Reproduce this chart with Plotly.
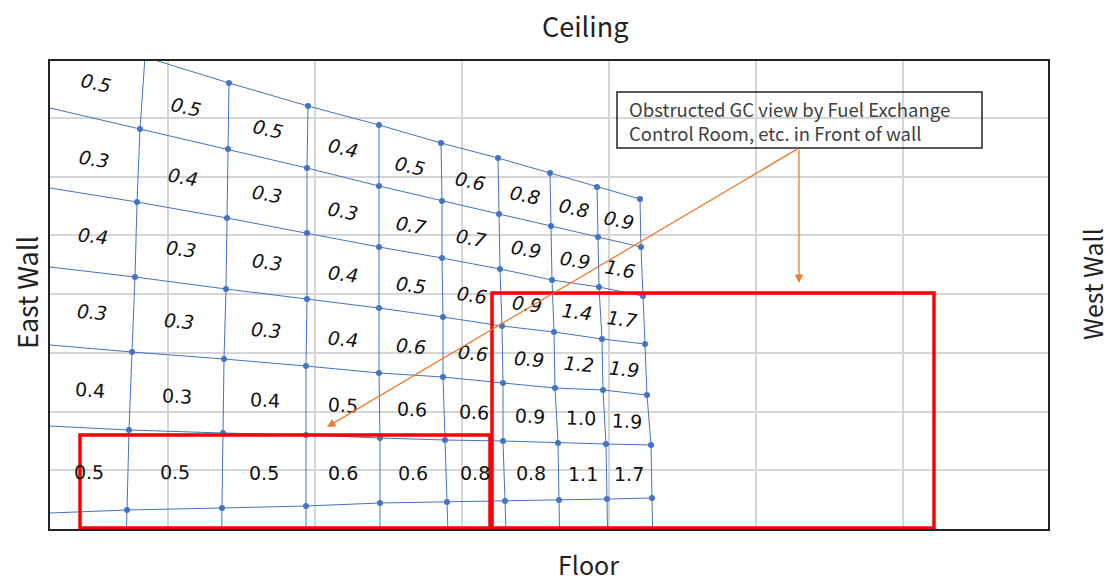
import math
import plotly.graph_objects as go

# ---------------- data ----------------
# Plot frame (picture pixel units, y grows downward)
frame_x = [50, 1048]
frame_y = [529, 61]

# Mesh nodes: rows R0..R6 (top to bottom), columns C0..C8 (east to west)
node_x = [
    [145, 229, 308, 379, 441, 498, 550, 597, 640],
    [140, 228, 307, 379, 442, 499, 551, 598, 641],
    [137, 227, 307, 379, 442, 500, 552, 599, 643],
    [135, 226, 307, 379, 443, 502, 554, 602, 645],
    [132, 224, 306, 379, 443, 503, 555, 603, 647],
    [129, 223, 306, 380, 445, 503, 558, 606, 651],
    [127, 222, 306, 380, 447, 505, 559, 607, 652],
]
node_y = [
    [57, 83, 106, 125, 143, 158, 173, 187, 199],
    [129, 149, 168, 186, 201, 214, 226, 237, 247],
    [202, 218, 233, 247, 258, 269, 280, 287, 296],
    [277, 289, 299, 308, 317, 326, 332, 339, 344],
    [352, 359, 366, 373, 377, 383, 388, 390, 395],
    [430, 433, 435, 438, 440, 441, 443, 444, 445],
    [510, 508, 506, 503, 502, 501, 500, 499, 498],
]
# Height where each mesh row line meets the east wall (left frame)
row_left_y = [30, 108, 188, 267, 345, 426, 513]

# GC values per cell (rows top->bottom, columns east->west)
gc_values = [
    [0.5, 0.5, 0.5, 0.4, 0.5, 0.6, 0.8, 0.8, 0.9],
    [0.3, 0.4, 0.3, 0.3, 0.7, 0.7, 0.9, 0.9, 1.6],
    [0.4, 0.3, 0.3, 0.4, 0.5, 0.6, 0.9, 1.4, 1.7],
    [0.3, 0.3, 0.3, 0.4, 0.6, 0.6, 0.9, 1.2, 1.9],
    [0.4, 0.3, 0.4, 0.5, 0.6, 0.6, 0.9, 1.0, 1.9],
    [0.5, 0.5, 0.5, 0.6, 0.6, 0.8, 0.8, 1.1, 1.7],
]

# Obstructed regions (x0, y0, x1, y1)
obstructed_regions = [
    (80, 435, 490, 528),
    (492, 293, 934, 528),
]

note_text = "Obstructed GC view by Fuel Exchange<br>Control Room, etc. in Front of wall"
note_box = (617, 92, 982, 148)
arrow_tail = (799, 148)
arrow_heads = [(799, 283), (327, 427)]

# ---------------- styles ----------------
MESH_COLOR = "#4472C4"
GRID_COLOR = "#d6d6d6"
ORANGE = "#ED7D31"
LABEL_FONT = "DejaVu Sans, Verdana, sans-serif"
TITLE_FONT = "Noto Sans CJK JP"

n_rows = len(node_x)
n_cols = len(node_x[0])

fig = go.Figure()

# mesh row lines (from east wall to last column)
lx, ly = [], []
for r in range(n_rows):
    lx += [frame_x[0]] + node_x[r] + [None]
    ly += [row_left_y[r]] + node_y[r] + [None]
# mesh column lines (extend past the floor)
for c in range(n_cols):
    xs = [node_x[r][c] for r in range(n_rows)]
    ys = [node_y[r][c] for r in range(n_rows)]
    dx = xs[-1] - xs[-2]
    dy = ys[-1] - ys[-2]
    t = (560 - ys[-1]) / dy
    xs.append(xs[-1] + dx * t)
    ys.append(560)
    lx += xs + [None]
    ly += ys + [None]

fig.add_trace(go.Scatter(x=lx, y=ly, mode="lines",
                         line=dict(color=MESH_COLOR, width=1),
                         hoverinfo="skip", showlegend=False))

px = [v for row in node_x for v in row]
py = [v for row in node_y for v in row]
fig.add_trace(go.Scatter(x=px, y=py, mode="markers",
                         marker=dict(color=MESH_COLOR, size=6),
                         hoverinfo="skip", showlegend=False))

annotations = []

# cell value labels
for r in range(len(gc_values)):
    for c in range(n_cols):
        if c == 0:
            tl = (frame_x[0], row_left_y[r])
            bl = (frame_x[0], row_left_y[r + 1])
        else:
            tl = (node_x[r][c - 1], node_y[r][c - 1])
            bl = (node_x[r + 1][c - 1], node_y[r + 1][c - 1])
        tr = (node_x[r][c], node_y[r][c])
        br = (node_x[r + 1][c], node_y[r + 1][c])
        cx = (tl[0] + tr[0] + bl[0] + br[0]) / 4
        cy = (tl[1] + tr[1] + bl[1] + br[1]) / 4
        a_top = math.degrees(math.atan2(tr[1] - tl[1], tr[0] - tl[0]))
        a_bot = math.degrees(math.atan2(br[1] - bl[1], br[0] - bl[0]))
        ang = 0.85 * (a_top + a_bot) / 2
        italic = r < 4
        txt = f"{gc_values[r][c]:.1f}"
        annotations.append(dict(
            x=cx, y=cy + 2, xref="x", yref="y", text=f"<i>{txt}</i>" if italic else txt,
            showarrow=False, textangle=ang,
            font=dict(family=LABEL_FONT, size=19, color="#111111"),
            xanchor="center", yanchor="middle"))

# note text
annotations.append(dict(
    x=note_box[0] + 10, y=(note_box[1] + note_box[3]) / 2 + 1, xref="x", yref="y",
    text=note_text, showarrow=False, align="left", xanchor="left", yanchor="middle",
    font=dict(family=TITLE_FONT, size=18.5, color="#404040")))

# arrows
for hx, hy in arrow_heads:
    annotations.append(dict(
        x=hx, y=hy, xref="x", yref="y", ax=arrow_tail[0], ay=arrow_tail[1],
        axref="x", ayref="y", text="", showarrow=True,
        arrowhead=2, arrowsize=1.3, arrowwidth=1.3, arrowcolor=ORANGE, standoff=0))

# wall titles (paper coords)
def to_paper(xp, yp):
    return ((xp - frame_x[0]) / (frame_x[1] - frame_x[0]),
            (frame_y[0] - yp) / (frame_y[0] - frame_y[1]))

for text, (xp, yp), ang, size in [("Ceiling", (585, 25), 0, 27),
                                  ("Floor", (588, 564), 0, 25),
                                  ("East Wall", (26, 293), -90, 27),
                                  ("West Wall", (1092, 284), -90, 25)]:
    xx, yy = to_paper(xp, yp)
    annotations.append(dict(
        x=xx, y=yy, xref="paper", yref="paper", text=text, showarrow=False,
        textangle=ang, xanchor="center", yanchor="middle",
        font=dict(family=TITLE_FONT, size=size, color="#222222")))

shapes = []
for (x0, y0, x1, y1) in obstructed_regions:
    shapes.append(dict(type="rect", xref="x", yref="y", x0=x0, y0=y0, x1=x1, y1=y1,
                       line=dict(color="#FF0000", width=3.5), layer="above"))
shapes.append(dict(type="rect", xref="x", yref="y", x0=note_box[0], y0=note_box[1],
                   x1=note_box[2], y1=note_box[3],
                   line=dict(color="#222222", width=1.5), layer="above"))

W, H = 1111, 582
fig.update_layout(
    width=W, height=H,
    margin=dict(l=frame_x[0], r=W - frame_x[1], t=frame_y[1], b=H - frame_y[0], pad=0),
    paper_bgcolor="white", plot_bgcolor="white",
    annotations=annotations, shapes=shapes,
    xaxis=dict(range=frame_x, tickmode="linear", tick0=168, dtick=147,
               showticklabels=False, ticks="", showgrid=True, gridcolor=GRID_COLOR,
               gridwidth=2, zeroline=False, showline=True, mirror=True,
               linecolor="#222222", linewidth=1.5, fixedrange=True),
    yaxis=dict(range=frame_y, tickmode="linear", tick0=118, dtick=58.7,
               showticklabels=False, ticks="", showgrid=True, gridcolor=GRID_COLOR,
               gridwidth=2, zeroline=False, showline=True, mirror=True,
               linecolor="#222222", linewidth=1.5, fixedrange=True),
    showlegend=False,
)

# remove the default page margin so the figure fills the window exactly
fig.write_html("out.html",
               config={"displayModeBar": False},
               post_script="document.body.style.margin='0';document.body.style.overflow='hidden';")
